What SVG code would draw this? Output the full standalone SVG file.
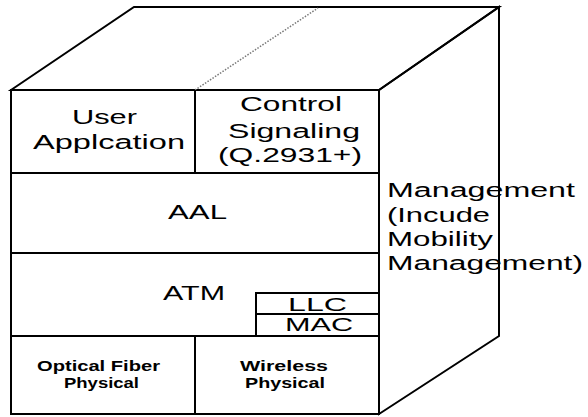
<svg xmlns="http://www.w3.org/2000/svg" width="588" height="417" viewBox="0 0 588 417">
<style>
.ln{fill:none;stroke:#000;stroke-width:2;stroke-linejoin:miter}
.t{font-family:"Liberation Sans",Arial,sans-serif;font-size:20px;fill:#000}
.s{font-family:"Liberation Sans",Arial,sans-serif;font-size:18px;fill:#000}
.b{font-family:"Liberation Sans",Arial,sans-serif;font-size:15px;font-weight:bold;fill:#000}
</style>
<rect width="588" height="417" fill="#fff"/>
<g id="cube">
<polygon class="ln" points="11,90 134,7 499,7 379,90"/>
<polygon class="ln" points="379,90 499,7 499,336 379,414"/>
<rect class="ln" x="11" y="90" width="368" height="324"/>
<line x1="195" y1="90" x2="318" y2="8" stroke="#777" stroke-width="1.5" stroke-dasharray="1.5 1.5"/>
</g>
<g id="user-application">
<line class="ln" x1="195" y1="90" x2="195" y2="173"/>
<text class="t" x="72" y="124" textLength="65" lengthAdjust="spacingAndGlyphs">User</text>
<text class="t" x="33" y="149" textLength="152" lengthAdjust="spacingAndGlyphs">Applcation</text>
</g>
<g id="control-signaling">
<text class="t" x="240" y="111" textLength="102" lengthAdjust="spacingAndGlyphs">Control</text>
<text class="t" x="228" y="138" textLength="132" lengthAdjust="spacingAndGlyphs">Signaling</text>
<text class="t" x="218" y="162" textLength="144" lengthAdjust="spacingAndGlyphs">(Q.2931+)</text>
</g>
<g id="aal">
<line class="ln" x1="11" y1="173" x2="379" y2="173"/>
<text class="t" x="168" y="219" textLength="59" lengthAdjust="spacingAndGlyphs">AAL</text>
</g>
<g id="atm">
<line class="ln" x1="11" y1="253" x2="379" y2="253"/>
<text class="t" x="163" y="300" textLength="62" lengthAdjust="spacingAndGlyphs">ATM</text>
</g>
<g id="llc">
<rect class="ln" x="256" y="293" width="123" height="21"/>
<text class="s" x="288" y="311" textLength="59" lengthAdjust="spacingAndGlyphs">LLC</text>
</g>
<g id="mac">
<rect class="ln" x="256" y="314" width="123" height="22"/>
<text class="s" x="285" y="331" textLength="68" lengthAdjust="spacingAndGlyphs">MAC</text>
</g>
<g id="optical-fiber-physical">
<line class="ln" x1="11" y1="336" x2="379" y2="336"/>
<text class="b" x="37" y="371" textLength="123" lengthAdjust="spacingAndGlyphs">Optical Fiber</text>
<text class="b" x="64" y="388" textLength="75" lengthAdjust="spacingAndGlyphs">Physical</text>
</g>
<g id="wireless-physical">
<line class="ln" x1="195" y1="336" x2="195" y2="414"/>
<text class="b" x="240" y="371" textLength="88" lengthAdjust="spacingAndGlyphs">Wireless</text>
<text class="b" x="245" y="388" textLength="80" lengthAdjust="spacingAndGlyphs">Physical</text>
</g>
<g id="management">
<text class="t" x="387" y="197" textLength="188" lengthAdjust="spacingAndGlyphs">Management</text>
<text class="t" x="387" y="222" textLength="103" lengthAdjust="spacingAndGlyphs">(Incude</text>
<text class="t" x="387" y="246" textLength="106" lengthAdjust="spacingAndGlyphs">Mobility</text>
<text class="t" x="387" y="270" textLength="196" lengthAdjust="spacingAndGlyphs">Management)</text>
<line class="ln" x1="499" y1="175" x2="499" y2="280"/>
</g>
</svg>
